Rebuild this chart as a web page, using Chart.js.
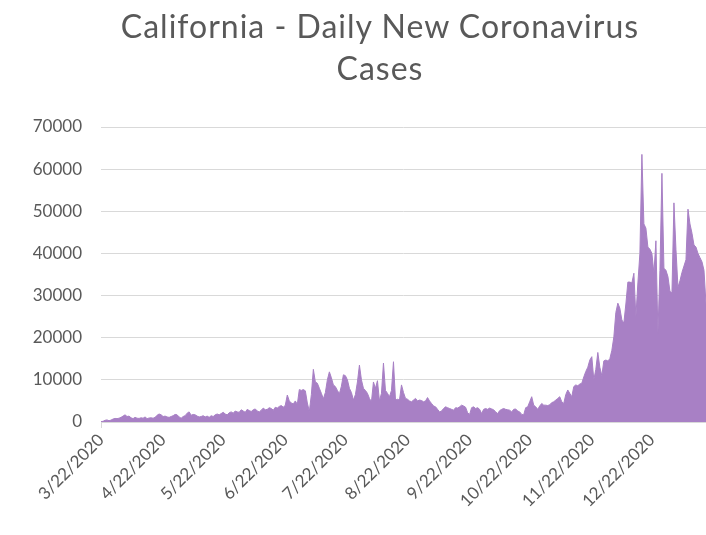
<!DOCTYPE html>
<html>
<head>
<meta charset="utf-8">
<script src="https://cdn.jsdelivr.net/npm/chart.js@4"></script>
<style>
  html, body { margin: 0; padding: 0; background: #fff; }
  body { width: 706px; height: 535px; overflow: hidden; position: relative; font-family: Lato, sans-serif; }
  #wrap { position: absolute; left: 0; top: 0; width: 706px; height: 535px; }
  #title { position: absolute; left: 0; top: 5px; width: 760px; text-align: center; color: #595959; font-size: 32px; letter-spacing: 1px; line-height: 42px; }
</style>
</head>
<body>
<div id="wrap"><canvas id="chart"></canvas></div>
<div id="title">California - Daily New Coronavirus<br>Cases</div>
<script>
// 日別新規感染者数
const startDate = new Date(2020, 2, 22);
const mar = [100, 150, 400, 500, 300, 450, 700, 850, 800, 900];
const apr = [1100, 1400, 1700, 1300, 1400, 1000, 800, 1100, 900, 850, 1000, 900, 1200, 800, 950, 1000, 900, 1100, 1600, 1900, 1700, 1300, 1400, 1200, 1100, 1300, 1500, 1800, 1700, 1200];
const may = [900, 1300, 1500, 2100, 2400, 1600, 1800, 1700, 1400, 1200, 1300, 1500, 1200, 1400, 1100, 1500, 1300, 1700, 1900, 1700, 2000, 2300, 1900, 1700, 2200, 2400, 2100, 2600, 2400, 2300, 2900];
const jun = [2600, 2300, 3000, 2700, 2500, 2900, 3100, 2600, 2400, 2800, 3300, 2900, 3000, 3400, 3200, 2800, 3500, 3300, 3700, 3900, 3500, 4000, 6400, 5000, 4500, 4300, 5000, 4200, 7700, 7500];
const jul = [7700, 7400, 4500, 2500, 6500, 12500, 9500, 9200, 8000, 6800, 5500, 7000, 10000, 11900, 10500, 8800, 8400, 7500, 6700, 8500, 11200, 11000, 10000, 8000, 7000, 5200, 6500, 9500, 13500, 10000, 8000];
const aug = [7500, 6800, 5600, 4800, 9500, 8000, 9800, 5000, 6800, 14000, 7500, 6800, 6000, 7500, 14300, 5200, 5400, 5200, 8800, 7000, 5600, 5400, 5000, 4800, 5200, 5600, 5000, 5200, 5100, 4800, 5000];
const sep = [5800, 5000, 4400, 3800, 3600, 3000, 2400, 2600, 3200, 3600, 3400, 3200, 3000, 2800, 3400, 3300, 3600, 4000, 3800, 3500, 2200, 1800, 3400, 3600, 3200, 3400, 3000, 2000, 3000, 3200];
const oct = [3000, 3300, 3100, 2900, 2400, 2000, 2700, 3000, 3200, 3000, 2900, 2800, 2400, 3000, 3100, 2600, 2400, 1800, 1700, 3400, 3600, 4800, 6000, 4000, 3600, 3000, 3800, 4400, 4000, 4000, 3900];
const nov = [4100, 4600, 4800, 5200, 5600, 6000, 4800, 4400, 6500, 7600, 6800, 6000, 8400, 8800, 8600, 9000, 9200, 10700, 12000, 13000, 14700, 15500, 10000, 12500, 16500, 13000, 11000, 14500, 14700, 14500];
const dec = [15000, 17000, 20200, 26000, 28200, 27000, 24200, 23500, 28000, 33200, 33200, 33000, 35300, 25000, 33000, 40000, 63500, 47000, 46000, 41500, 41000, 40000, 35300, 43000, 21100, 36000, 59000, 36500, 36000, 34500, 31000];
const jan = [30600, 52000, 41000, 32000, 33500, 35500, 37000, 38500, 50500, 47000, 44800, 42000, 41500, 40000, 39000, 38000, 36000, 28000];

const dailyCases = [].concat(mar, apr, may, jun, jul, aug, sep, oct, nov, dec, jan);
const tickLabels = ['3/22/2020', '4/22/2020', '5/22/2020', '6/22/2020', '7/22/2020', '8/22/2020', '9/22/2020', '10/22/2020', '11/22/2020', '12/22/2020'];
const yTicks = [0, 10000, 20000, 30000, 40000, 50000, 60000, 70000];

// 日付ラベルを作成
const labels = dailyCases.map((v, i) => {
    const d = new Date(startDate.getFullYear(), startDate.getMonth(), startDate.getDate() + i);
    return `${d.getMonth() + 1}/${d.getDate()}/${d.getFullYear()}`;
});

const textColor = '#595959';
const gridColor = '#d9d9d9';
const font = { family: 'Lato', size: 17 };

new Chart(document.getElementById('chart'), {
    type: 'line',
    data: {
        labels: labels,
        datasets: [{
            data: dailyCases,
            fill: 'origin',
            backgroundColor: '#a880c5',
            borderColor: '#a880c5',
            borderWidth: 1,
            pointRadius: 0,
            tension: 0
        }]
    },
    options: {
        responsive: true,
        maintainAspectRatio: false,
        animation: false,
        layout: { padding: { top: 127, left: 0, right: 0, bottom: 0 } },
        plugins: {
            legend: { display: false },
            tooltip: { enabled: false }
        },
        scales: {
            x: {
                type: 'category',
                afterFit: function(scale) { scale.height = 113; },
                grid: {
                    drawOnChartArea: false,
                    drawTicks: true,
                    tickLength: 6,
                    tickColor: ctx => tickLabels.includes(labels[ctx.index]) ? gridColor : 'rgba(0,0,0,0)'
                },
                border: { display: true, color: gridColor },
                ticks: {
                    autoSkip: false,
                    minRotation: 45,
                    maxRotation: 45,
                    padding: 2,
                    color: textColor,
                    font: font,
                    callback: function(value, index) {
                        const l = labels[index];
                        return tickLabels.includes(l) ? l : null;
                    }
                }
            },
            y: {
                min: yTicks[0],
                max: yTicks[yTicks.length - 1],
                afterFit: function(scale) { scale.width = 101; },
                afterBuildTicks: function(scale) { scale.ticks = yTicks.map(v => ({ value: v })); },
                grid: { color: gridColor, drawTicks: false },
                border: { display: false },
                ticks: {
                    padding: 19,
                    color: textColor,
                    font: font,
                    callback: value => String(value)
                }
            }
        }
    }
});
</script>
</body>
</html>
